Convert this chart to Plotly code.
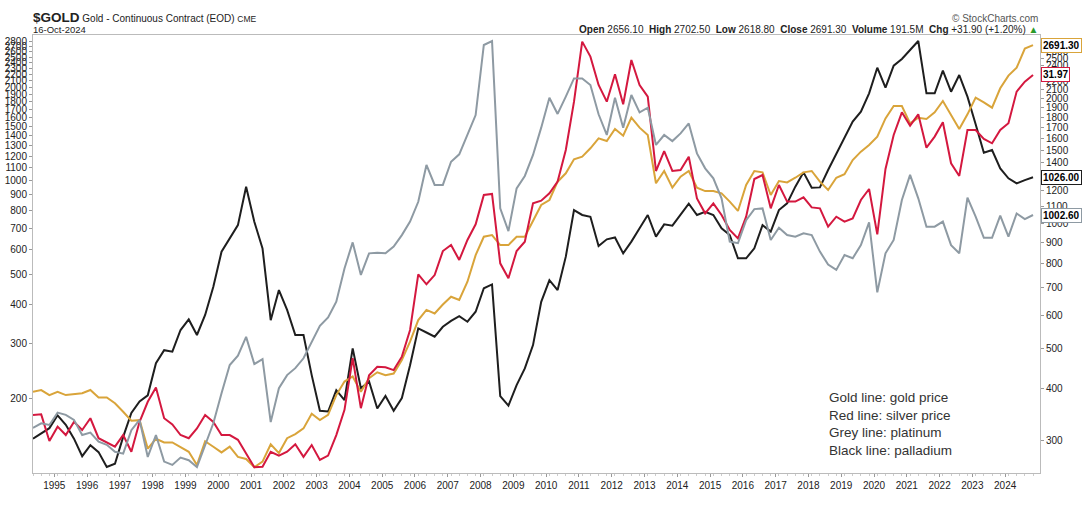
import math
import pandas as pd
import plotly.graph_objects as go

# ---------------- data (quarterly closes, 1994Q2 .. 2024Q4 partial) ----------------
quarters = [str(p) for p in pd.period_range("1994Q2", "2024Q4", freq="Q")]

gold = [392, 396, 385, 392, 385, 387, 389, 396, 380, 380, 368, 351, 334, 335, 286, 302, 296, 296, 288, 281,
        261, 298, 289, 280, 289, 273, 270, 258, 266, 293, 279, 303, 310, 320, 347, 335, 345, 385, 415, 427,
        392, 423, 437, 430, 434, 468, 518, 584, 618, 606, 637, 665, 653, 723, 838, 928, 937, 886, 886, 928,
        928, 1018, 1107, 1138, 1260, 1320, 1427, 1448, 1517, 1603, 1580, 1688, 1627, 1798, 1701, 1633, 1249, 1337, 1219, 1296,
        1337, 1219, 1196, 1196, 1181, 1128, 1071, 1237, 1337, 1327, 1170, 1265, 1255, 1288, 1327, 1337, 1260, 1203, 1288, 1313,
        1421, 1489, 1545, 1618, 1791, 1919, 1919, 1742, 1798, 1785, 1852, 1973, 1818, 1688, 1832, 2010, 1958, 1901, 2117, 2271,
        2374, 2640, 2691.30]

silver = [5.49, 5.51, 4.80, 5.17, 4.95, 5.30, 5.08, 5.40, 4.87, 4.77, 4.66, 4.95, 4.54, 5.30, 5.88, 6.33, 5.40, 5.23, 4.95, 4.87,
          5.12, 5.49, 5.30, 4.95, 4.95, 4.83, 4.50, 4.19, 4.20, 4.54, 4.45, 4.54, 4.72, 4.42, 4.70, 4.35, 4.45, 4.95, 5.64, 7.37,
          5.69, 6.75, 7.05, 7.03, 6.93, 7.43, 8.53, 11.38, 10.81, 11.34, 12.84, 13.25, 12.26, 13.60, 14.75, 17.17, 17.26, 12.05, 11.15, 12.84,
          13.48, 16.44, 16.67, 17.32, 18.40, 21.68, 27.84, 38.00, 35.16, 30.36, 27.84, 32.08, 27.46, 34.55, 30.36, 28.58, 19.44, 21.56, 19.44, 19.54,
          20.94, 16.87, 15.61, 16.44, 15.48, 14.32, 13.71, 15.34, 18.65, 19.04, 16.02, 18.08, 16.59, 16.59, 16.96, 16.10, 16.02, 14.57, 15.34, 14.95,
          15.21, 16.73, 17.71, 14.00, 19.65, 23.43, 26.35, 24.59, 26.07, 21.94, 23.23, 25.02, 20.23, 18.95, 24.04, 24.04, 22.95, 22.44, 24.04, 24.89,
          29.33, 30.88, 31.97]

platinum = [422, 430, 427, 449, 445, 436, 410, 414, 399, 394, 383, 380, 418, 436, 375, 410, 368, 363, 374, 370,
            360, 395, 430, 486, 545, 566, 611, 547, 558, 432, 496, 523, 538, 560, 599, 639, 661, 705, 807, 897,
            786, 858, 860, 858, 882, 924, 976, 1058, 1229, 1133, 1133, 1245, 1283, 1388, 1505, 2001, 2034, 1030, 939, 1117,
            1175, 1280, 1430, 1615, 1512, 1622, 1747, 1747, 1701, 1510, 1388, 1615, 1430, 1633, 1522, 1551, 1333, 1388, 1354, 1397,
            1455, 1288, 1212, 1164, 1073, 900, 894, 982, 1027, 1030, 906, 952, 924, 918, 931, 924, 864, 820, 802, 852,
            841, 887, 973, 732, 858, 906, 1066, 1180, 1073, 956, 956, 976, 887, 858, 1076, 996, 914, 914, 1000, 918,
            1009, 986, 1002.60]

palladium = [148, 154, 160, 176, 164, 148, 130, 141, 134, 120, 123, 150, 179, 195, 204, 259, 285, 282, 331, 358,
             319, 370, 456, 591, 653, 720, 957, 738, 606, 356, 445, 384, 319, 319, 237, 182, 181, 212, 197, 289,
             215, 226, 185, 203, 182, 200, 255, 335, 325, 315, 339, 354, 367, 352, 379, 451, 464, 203, 189, 220,
             249, 296, 408, 479, 445, 570, 805, 776, 766, 617, 648, 657, 584, 637, 703, 776, 661, 724, 717, 776,
             844, 776, 795, 776, 703, 669, 563, 563, 606, 720, 686, 805, 846, 957, 1064, 950, 952, 1083, 1225, 1386,
             1549, 1668, 1911, 2310, 1993, 2345, 2464, 2634, 2815, 1911, 1911, 2260, 1934, 2188, 1864, 1519, 1231, 1256, 1096, 1018,
             981, 1005, 1026.00]

left_ticks = [200, 300, 400, 500, 600, 700, 800, 900, 1000, 1100, 1200, 1300, 1400, 1500, 1600, 1700, 1800,
              1900, 2000, 2100, 2200, 2300, 2400, 2500, 2600, 2700, 2800]
right_ticks = [300, 400, 500, 600, 700, 800, 900, 1000, 1100, 1200, 1300, 1400, 1500, 1600, 1700, 1800,
               1900, 2000, 2100, 2200, 2300, 2400, 2500, 2600]
years = list(range(1995, 2025))

legend_lines = ["Gold line: gold price", "Red line: silver price", "Grey line: platinum", "Black line: palladium"]

# ---------------- styling ----------------
C_GOLD = "#D9A43A"
C_RED = "#D4183F"
C_GREY = "#8E9AA3"
C_BLACK = "#1E1E1E"
FONT = "Liberation Sans, Arial, sans-serif"

x = list(range(len(quarters)))
fig = go.Figure()
fig.add_trace(go.Scatter(x=x, y=platinum, yaxis="y4", mode="lines", line=dict(color=C_GREY, width=2), name="platinum"))
fig.add_trace(go.Scatter(x=x, y=gold, yaxis="y2", mode="lines", line=dict(color=C_GOLD, width=2), name="gold"))
fig.add_trace(go.Scatter(x=x, y=silver, yaxis="y3", mode="lines", line=dict(color=C_RED, width=2), name="silver"))
fig.add_trace(go.Scatter(x=x, y=palladium, yaxis="y", mode="lines", line=dict(color=C_BLACK, width=2), name="palladium"))

tickpos = [quarters.index(f"{y}Q1") - 0.4 for y in years]

axis_common = dict(showgrid=False, zeroline=False, ticks="outside", ticklen=3, tickcolor="#999", automargin=False,
                   tickfont=dict(family=FONT, size=10, color="#222"), linecolor="#bbb", showline=True)

fig.update_layout(
    width=1085, height=514,
    margin=dict(l=33, r=45, t=35, b=41, autoexpand=False),
    paper_bgcolor="white", plot_bgcolor="white",
    showlegend=False,
    xaxis=dict(range=[0, len(quarters) - 1 + 0.85], tickvals=tickpos, ticktext=[str(y) for y in years],
               mirror=True, minor=dict(dtick=1, ticks="outside", ticklen=2, tickcolor="#ccc"),
               **axis_common),
    yaxis=dict(type="log", range=[2.0599, 3.4688], tickvals=left_ticks, ticktext=[str(v) for v in left_ticks],
               side="left", mirror=True, **axis_common),
    yaxis2=dict(type="log", range=[2.3975, 3.4543], tickvals=right_ticks, ticktext=[str(v) for v in right_ticks],
                side="right", overlaying="y", **axis_common),
    yaxis3=dict(type="log", range=[0.6092, 1.5947], overlaying="y", visible=False),
    yaxis4=dict(type="log", range=[2.5457, 3.3189], overlaying="y", visible=False),
)

# last-value boxes on the right
for vals, ref, col in [(gold, "y2", C_GOLD), (silver, "y3", C_RED), (palladium, "y", C_BLACK), (platinum, "y4", C_GREY)]:
    fig.add_annotation(x=1, xref="paper", y=math.log10(vals[-1]), yref=ref, text=f"<b>{vals[-1]:.2f}</b>",
                       showarrow=False, xanchor="left", yanchor="middle", xshift=1,
                       bgcolor="white", bordercolor=col, borderwidth=1, borderpad=1,
                       font=dict(family=FONT, size=10, color="black"))

# header
fig.add_annotation(x=0, xref="paper", y=1, yref="paper", yshift=18, xanchor="left", yanchor="middle", xshift=-2,
                   text="<b><span style='font-size:13.5px'>$GOLD</span></b> Gold - Continuous Contract (EOD) "
                        "<span style='font-size:8.5px'>CME</span>",
                   showarrow=False, font=dict(family=FONT, size=10, color="#222"))
fig.add_annotation(x=0, xref="paper", y=1, yref="paper", yshift=6, xanchor="left", yanchor="middle", xshift=-2,
                   text="16-Oct-2024", showarrow=False, font=dict(family=FONT, size=9.5, color="#222"))
fig.add_annotation(x=1, xref="paper", y=1, yref="paper", yshift=17, xanchor="right", yanchor="middle",
                   text="© StockCharts.com", showarrow=False, font=dict(family=FONT, size=10, color="#555"))
ohlc = ("<b>Open</b> 2656.10\u00a0\u00a0<b>High</b> 2702.50\u00a0\u00a0<b>Low</b> 2618.80\u00a0\u00a0"
        "<b>Close</b> 2691.30\u00a0\u00a0<b>Volume</b> 191.5M\u00a0\u00a0<b>Chg</b> +31.90 (+1.20%) "
        "<span style='color:#2a9a2a'>▲</span>")
fig.add_annotation(x=1, xref="paper", y=1, yref="paper", yshift=6, xanchor="right", yanchor="middle",
                   text=ohlc, showarrow=False, font=dict(family=FONT, size=10, color="#222"))

# text legend inside plot
fig.add_annotation(x=(827 - 33) / 1007, xref="paper", y=0.113, yref="paper", xanchor="left", yanchor="middle",
                   align="left", text="<br>".join(legend_lines), showarrow=False,
                   font=dict(family=FONT, size=13.5, color="#333"))

# remove the browser's default 8px body margin so the figure fills the window exactly
fig.write_html("out.html", config={"displayModeBar": False},
               post_script="document.body.style.margin='0px';")
